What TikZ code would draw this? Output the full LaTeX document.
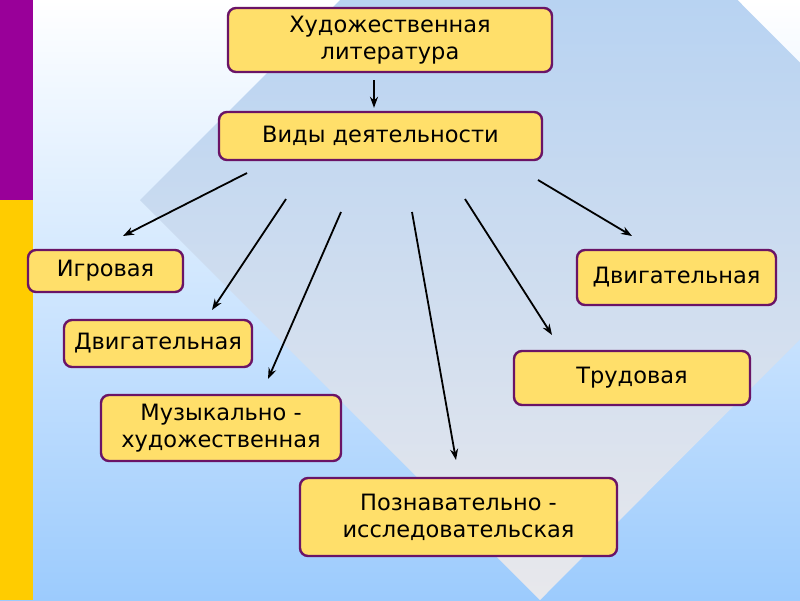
\documentclass[tikz,border=0pt]{standalone}
\usepackage{fontspec}
\setmainfont{DejaVu Sans}
\usetikzlibrary{arrows.meta, positioning}
\definecolor{stripviolet}{HTML}{990099}
\definecolor{stripyellow}{HTML}{FFCC00}
\definecolor{bgblue}{HTML}{9CCBFD}
\definecolor{diamtop}{HTML}{A8CCF4}
\definecolor{diambot}{HTML}{E8E8EC}
\definecolor{boxfill}{HTML}{FFDF6A}
\definecolor{boxline}{HTML}{6A1466}

\begin{document}
\begin{tikzpicture}[x=1pt, y=-1pt, >={Stealth[length=11pt, width=8pt]},
    box/.style={draw=boxline, fill=boxfill, line width=2.4pt, rounded corners=8pt,
        align=center, font=\fontsize{22.5}{27}\selectfont, inner sep=0pt},
    arr/.style={->, line width=1.8pt}]
        \useasboundingbox (0,0) rectangle (800,600);
        % Background and diamond
        \shade [top color=white, bottom color=bgblue] (0,0) rectangle (800,600);
        \begin{scope}
            \clip (0,0) rectangle (800,600);
            \shade [top color=diamtop, bottom color=diambot] (140,200) -- (539,-199) -- (938,201) -- (540,600) -- cycle;
        \end{scope}
        % Side strip
        \fill [stripviolet] (0,0) rectangle (33,200);
        \fill [stripyellow] (0,200) rectangle (33,600);
        % Boxes
        \node [box, minimum width=324pt, minimum height=64pt] (lit) at (390,40) {Художественная\\литература};
        \node [box, minimum width=323pt, minimum height=48pt] (vid) at (380.5,136) {Виды деятельности};
        \node [box, minimum width=155pt, minimum height=42pt] (igr) at (105.5,271) {Игровая};
        \node [box, minimum width=188pt, minimum height=47pt] (dvl) at (158,343.5) {Двигательная};
        \node [box, minimum width=240pt, minimum height=66pt] (muz) at (221,428) {Музыкально -\\художественная};
        \node [box, minimum width=317pt, minimum height=78pt] (poz) at (458.5,517) {Познавательно -\\исследовательская};
        \node [box, minimum width=236pt, minimum height=54pt] (trud) at (632,378) {Трудовая};
        \node [box, minimum width=199pt, minimum height=55pt] (dvr) at (676.5,277.5) {Двигательная};
        % Arrow ends
        \coordinate (m) at (374,0);
        \coordinate (s1) at (247,173); \coordinate (e1) at (123,236);
        \coordinate (s2) at (286,199); \coordinate (e2) at (212,310);
        \coordinate (s3) at (341,212); \coordinate (e3) at (268,379);
        \coordinate (s4) at (412,212); \coordinate (e4) at (456,460);
        \coordinate (s5) at (465,199); \coordinate (e5) at (552,335);
        \coordinate (s6) at (538,180); \coordinate (e6) at (632,236);
        % Arrows
        \draw [arr, shorten <=7pt, shorten >=3pt] (lit.south -| m) -- (vid.north -| m);
        \draw [arr] (s1) -- (e1);
        \draw [arr] (s2) -- (e2);
        \draw [arr] (s3) -- (e3);
        \draw [arr] (s4) -- (e4);
        \draw [arr] (s5) -- (e5);
        \draw [arr] (s6) -- (e6);
    \end{tikzpicture}
\end{document}
